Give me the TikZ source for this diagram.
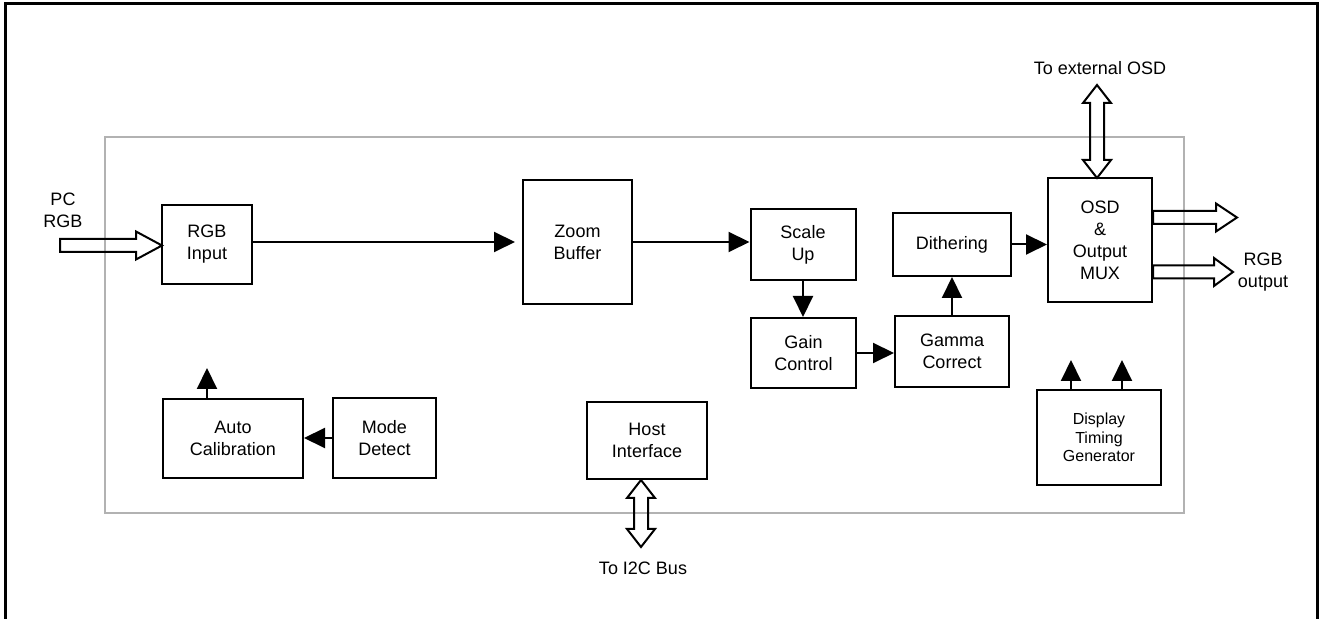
\documentclass[tikz,border=0pt]{standalone}
\usepackage{fontspec}
\setmainfont{Liberation Sans}
\usetikzlibrary{arrows.meta}

% hollow block arrows
\newcommand{\fatright}[3]{% start, length, head length
  \draw[fat] (#1) ++(0,-6.5) -- ++({#2-#3},0) -- ++(0,-7.5) -- ++(#3,14)
    -- ++(-#3,14) -- ++(0,-7.5) -- ++({#3-#2},0) -- cycle;}
\newcommand{\fatupdown}[2]{% upper tip, length
  \draw[fat] (#1) -- ++(14,18) -- ++(-7,0) -- ++(0,{#2-36}) -- ++(7,0)
    -- ++(-14,18) -- ++(-14,-18) -- ++(7,0) -- ++(0,{36-#2}) -- ++(-7,0) -- cycle;}

\begin{document}
\begin{tikzpicture}[x=0.5pt,y=-0.5pt,line join=miter]
    % styles
    \tikzstyle{blk}=[draw,line width=1pt,align=center,inner sep=0pt,font=\fontsize{9}{11}\selectfont]
    \tikzstyle{txt}=[align=center,font=\fontsize{9}{11}\selectfont]
    \tikzstyle{sig}=[line width=1pt,-{Triangle[length=10.5pt,width=10pt]}]
    \tikzstyle{fat}=[draw,line width=1pt]

    \useasboundingbox (0,0) rectangle (1324,619);

    % ----------------------------------------------------
    % frame and chip outline
    % ----------------------------------------------------
    \draw[line width=1.5pt] (5,619) -- (5,4) -- (1317,4) -- (1317,619);
    \draw[gray!60,line width=1pt] (105,137) rectangle (1184,513);

    % ----------------------------------------------------
    % blocks
    % ----------------------------------------------------
    \node[blk,minimum width=45pt,minimum height=39.5pt] (rgbin) at (207,244.5) {RGB\\Input};
    \node[blk,minimum width=54.5pt,minimum height=62pt] (zoom) at (577.5,242) {Zoom\\Buffer};
    \node[blk,minimum width=52.5pt,minimum height=35.5pt] (scale) at (803,244.5) {Scale\\Up};
    \node[blk,minimum width=52.5pt,minimum height=35pt] (gain) at (803.5,353) {Gain\\Control};
    \node[blk,minimum width=57pt,minimum height=35.5pt] (gamma) at (952,351.5) {Gamma\\Correct};
    \node[blk,minimum width=59pt,minimum height=31.5pt] (dither) at (952,244.5) {Dithering};
    \node[blk,minimum width=52pt,minimum height=62pt] (osd) at (1100,240) {OSD\\\&\\Output\\MUX};
    \node[blk,minimum width=62pt,minimum height=47.5pt,font=\fontsize{8}{9.25}\selectfont] (dtg) at (1099,437.5) {Display\\Timing\\Generator};
    \node[blk,minimum width=70pt,minimum height=39.5pt] (auto) at (233,438.5) {Auto\\Calibration};
    \node[blk,minimum width=51.5pt,minimum height=40pt] (mode) at (384.5,438) {Mode\\Detect};
    \node[blk,minimum width=60pt,minimum height=38.5pt] (host) at (647,440.5) {Host\\Interface};

    % outside labels
    \node[txt] (pcrgb) at (63,210) {PC\\RGB};
    \node[txt] (extlbl) at (1100,68) {To external OSD};
    \node[txt] (rgbout) at (1263,272) {RGB\\output};
    \node[txt] (i2clbl) at (643,568) {To I2C Bus};

    % free ends
    \coordinate (pcin) at (60,245.5);
    \coordinate (extosd) at (1097,85);
    \coordinate (i2c) at (641,546);
    \coordinate (calout) at (207,368);
    \coordinate (tima) at (1071,360);
    \coordinate (timb) at (1122,360);

    % ----------------------------------------------------
    % signal flow
    % ----------------------------------------------------
    \draw[sig,shorten >=3.5pt] (rgbin.east |- zoom.west) -- (zoom.west);
    \draw[sig] (zoom.east) -- (zoom.east -| scale.west);
    \draw[sig] (scale.south) -- (scale.south |- gain.north);
    \draw[sig] (gain.east) -- (gain.east -| gamma.west);
    \draw[sig] (gamma.north) -- (dither.south);
    \draw[sig] (dither.east) -- (dither.east -| osd.west);
    \draw[sig] (mode.west) -- (mode.west -| auto.east);
    \draw[sig] (calout |- auto.north) -- (calout);
    \draw[sig] (tima |- dtg.north) -- (tima);
    \draw[sig] (timb |- dtg.north) -- (timb);

    % buses
    \fatright{pcin}{102}{26}
    \fatright{[yshift=11.25pt]osd.east}{84}{21}
    \fatright{[yshift=-16pt]osd.east}{80}{19}
    \fatupdown{extosd}{93}
    \fatupdown{i2c |- host.south}{67}
\end{tikzpicture}
\end{document}
